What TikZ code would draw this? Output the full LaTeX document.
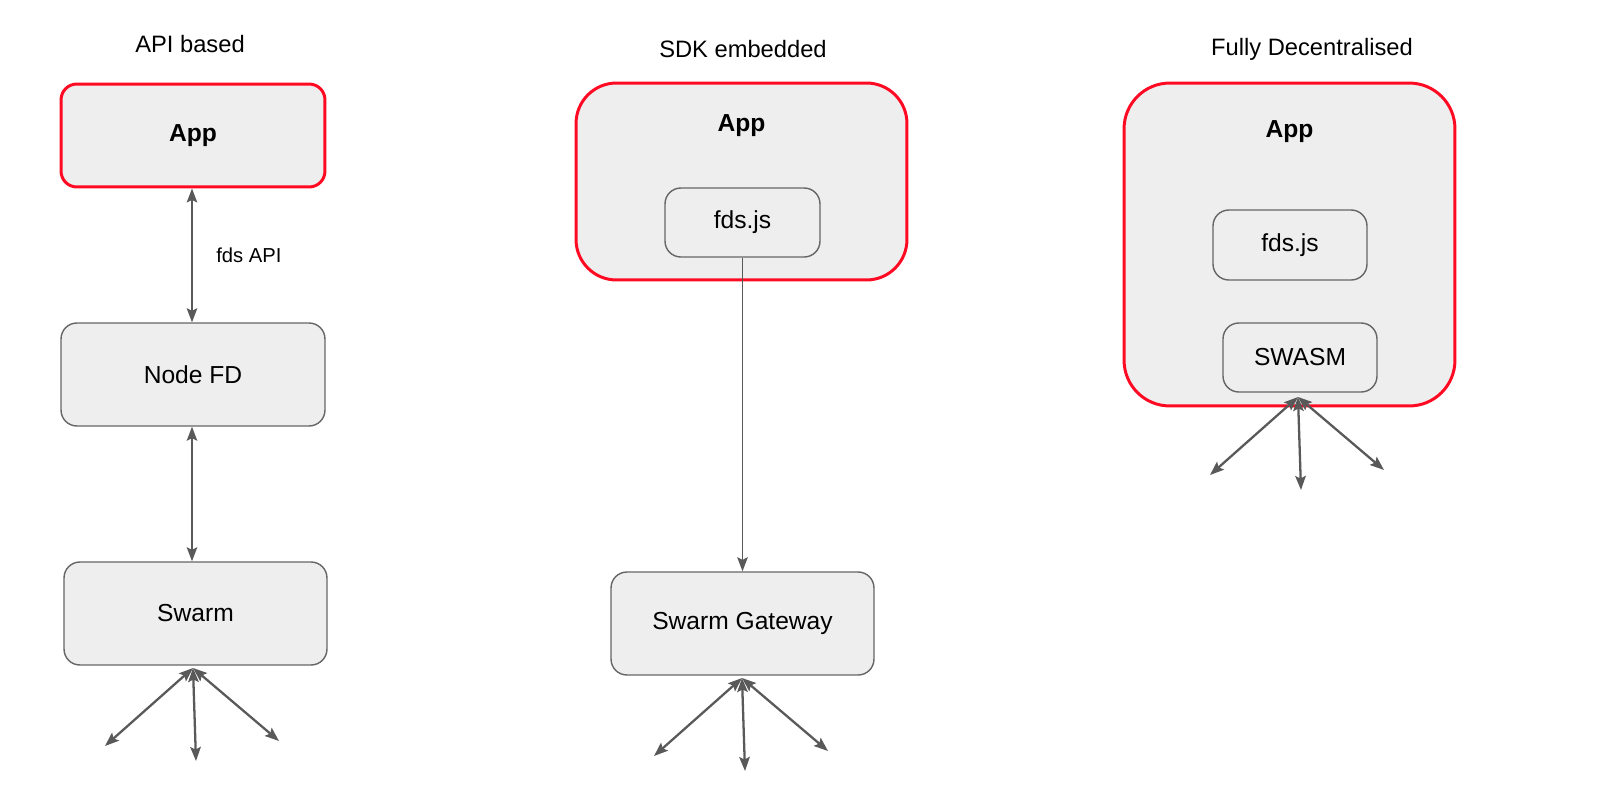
\documentclass[tikz,border=0pt]{standalone}
\usepackage{fontspec}
\setmainfont{Liberation Sans}
\usetikzlibrary{arrows.meta,positioning}

\definecolor{boxfill}{HTML}{EEEEEE}
\definecolor{boxline}{HTML}{666666}
\definecolor{applane}{RGB}{255,10,35}
\definecolor{arrowgray}{HTML}{595959}
\def\px{0.569pt}

\tikzset{
  plainbox/.style={draw=boxline, line width=0.8pt, fill=boxfill, rounded corners=9pt,
    font=\fontsize{14}{16}\selectfont, inner sep=0pt},
  appbox/.style={draw=applane, line width=1.7pt, fill=boxfill, inner sep=0pt},
  title/.style={font=\fontsize{13.5}{16}\selectfont},
  biarrow/.style={draw=arrowgray, line width=1pt,
    {Stealth[length=8pt,width=6pt,inset=1.5pt]}-{Stealth[length=8pt,width=6pt,inset=1.5pt]}},
  onearrow/.style={draw=arrowgray, line width=0.8pt, -{Stealth[length=8pt,width=6pt,inset=1.5pt]}}
}

\begin{document}
\begin{tikzpicture}[x=0.02cm, y=-0.02cm]
\useasboundingbox (0,0) rectangle (1600,808);

% titles
\node[title] (t1) at (190,44) {API based};
\node[title] (t2) at (743,49) {SDK embedded};
\node[title] (t3) at (1312,49) {Fully Decentralised};

% API based
\node[appbox, rounded corners=9pt, minimum width=264*\px, minimum height=103*\px,
  font=\fontsize{14}{16}\selectfont\bfseries] (app1) at (193,135.5) {App};
\node[plainbox, minimum width=264*\px, minimum height=103*\px] (nodefd) at (193,374.5) {Node FD};
\node[plainbox, minimum width=263*\px, minimum height=103*\px] (swarm) at (195.5,613.5) {Swarm};
\draw[biarrow] (app1.south -| 192,0) -- (nodefd.north -| 192,0)
  node[midway, right=10pt, font=\fontsize{11.5}{14}\selectfont] (api) {fds API};
\draw[biarrow] (nodefd.south -| 192,0) -- (swarm.north -| 192,0);

% SDK embedded
\node[appbox, rounded corners=23pt, minimum width=331*\px, minimum height=197*\px] (app2) at (741.5,181.5) {};
\node[font=\fontsize{14}{16}\selectfont\bfseries] (app2t) at ([yshift=-44*\px]app2.north) {App};
\node[plainbox, minimum width=155*\px, minimum height=69*\px] (fds2) at (742.5,222.5) {fds.js};
\node[plainbox, minimum width=263*\px, minimum height=103*\px] (gateway) at (742.5,623.5) {Swarm Gateway};
\draw[onearrow] (fds2.south) -- (gateway.north);

% Fully decentralised
\node[appbox, rounded corners=26pt, minimum width=331*\px, minimum height=323*\px] (app3) at (1289.5,244.5) {};
\node[font=\fontsize{14}{16}\selectfont\bfseries] (app3t) at ([yshift=-50*\px]app3.north) {App};
\node[plainbox, minimum width=154*\px, minimum height=70*\px] (fds3) at (1290,245) {fds.js};
\node[plainbox, minimum width=154*\px, minimum height=69*\px] (swasm) at (1300,357.5) {SWASM};

% peer connections
\coordinate (hub1) at (193,668);
\coordinate (hub2) at (742,678);
\coordinate (hub3) at (1298,397);
\foreach \h in {hub1,hub2,hub3}
  \foreach \dx/\dy [count=\i] in {-88/78,3/93,86/73} {
    \coordinate (\h-\i) at ([shift={(\dx,\dy)}]\h);
    \draw[biarrow, line width=1.3pt] (\h) -- (\h-\i);
  }
\end{tikzpicture}
\end{document}
